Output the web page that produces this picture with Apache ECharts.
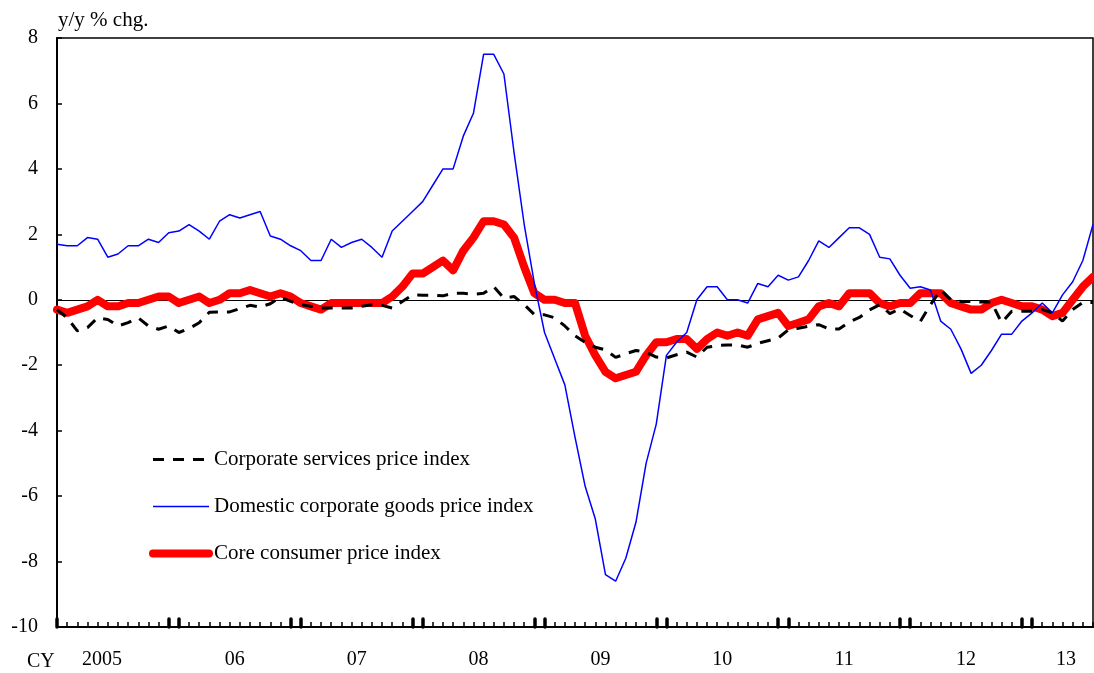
<!DOCTYPE html>
<html>
<head>
<meta charset="utf-8">
<script src="https://cdn.jsdelivr.net/npm/echarts@6/dist/echarts.min.js"></script>
<style>
html, body { margin: 0; padding: 0; background: #fff; }
#chart { width: 1094px; height: 673px; }
</style>
</head>
<body>
<div id="chart"></div>
<script>
// monthly, Jan 2005 .. Jul 2013
var years = ["2005", "06", "07", "08", "09", "10", "11", "12", "13"];
var monthCount = 103;

var services = [
    -0.3, -0.55, -0.95, -0.85, -0.55, -0.6, -0.8, -0.7, -0.55, -0.8, -0.9, -0.8,
    -1.0, -0.88, -0.7, -0.38, -0.37, -0.37, -0.27, -0.17, -0.22, -0.12, 0.08, -0.05,
    -0.15, -0.2, -0.25, -0.25, -0.25, -0.25, -0.2, -0.15, -0.17, -0.25, -0.05, 0.15,
    0.14, 0.14, 0.12, 0.2, 0.2, 0.17, 0.2, 0.4, 0.05, 0.1, -0.15, -0.45,
    -0.46, -0.55, -0.8, -1.1, -1.3, -1.45, -1.53, -1.76, -1.65, -1.55, -1.6, -1.75,
    -1.78, -1.68, -1.6, -1.75, -1.45, -1.4, -1.38, -1.38, -1.45, -1.33, -1.25, -1.17,
    -0.92, -0.87, -0.81, -0.76, -0.89, -0.89, -0.68, -0.54, -0.31, -0.15, -0.42, -0.28,
    -0.48, -0.66, -0.15, 0.3, 0.0, -0.05, -0.05, -0.07, -0.07, -0.7, -0.35, -0.35,
    -0.35, -0.3, -0.4, -0.65, -0.3, -0.08, -0.08
];
var goods = [
    1.7, 1.65, 1.65, 1.9, 1.85, 1.3, 1.4, 1.65, 1.65, 1.85, 1.75, 2.05,
    2.1, 2.3, 2.1, 1.85, 2.4, 2.6, 2.5, 2.6, 2.7, 1.95, 1.85, 1.65,
    1.5, 1.2, 1.2, 1.85, 1.6, 1.75, 1.85, 1.6, 1.3, 2.1, 2.4, 2.7,
    3.0, 3.5, 4.0, 4.0, 5.0, 5.7, 7.5, 7.5, 6.9, 4.5, 2.3, 0.5,
    -1.0, -1.8, -2.6, -4.2, -5.7, -6.7, -8.4, -8.6, -7.9, -6.8, -5.0, -3.8,
    -1.7, -1.3, -1.0, 0.0, 0.4, 0.4, 0.0, 0.0, -0.1, 0.5, 0.4, 0.75,
    0.6, 0.7, 1.2, 1.8, 1.6, 1.9, 2.2, 2.2, 2.0, 1.3, 1.25, 0.75,
    0.35, 0.4, 0.3, -0.65, -0.9, -1.5, -2.25, -2.0, -1.55, -1.05, -1.05, -0.65,
    -0.4, -0.1, -0.4, 0.15, 0.55, 1.2, 2.3
];
var core = [
    -0.3, -0.4, -0.3, -0.2, 0.0, -0.2, -0.2, -0.1, -0.1, 0.0, 0.1, 0.1,
    -0.1, 0.0, 0.1, -0.1, 0.0, 0.2, 0.2, 0.3, 0.2, 0.1, 0.2, 0.1,
    -0.1, -0.2, -0.3, -0.1, -0.1, -0.1, -0.1, -0.1, -0.1, 0.1, 0.4, 0.8,
    0.8, 1.0, 1.2, 0.9, 1.5, 1.9, 2.4, 2.4, 2.3, 1.9, 1.0, 0.2,
    0.0, 0.0, -0.1, -0.1, -1.1, -1.7, -2.2, -2.4, -2.3, -2.2, -1.7, -1.3,
    -1.3, -1.2, -1.2, -1.5, -1.2, -1.0, -1.1, -1.0, -1.1, -0.6, -0.5, -0.4,
    -0.8, -0.7, -0.6, -0.2, -0.1, -0.2, 0.2, 0.2, 0.2, -0.1, -0.2, -0.1,
    -0.1, 0.2, 0.2, 0.2, -0.1, -0.2, -0.3, -0.3, -0.1, 0.0, -0.1, -0.2,
    -0.2, -0.3, -0.5, -0.4, 0.0, 0.4, 0.7
];
var names = ["Corporate services price index", "Domestic corporate goods price index", "Core consumer price index"];

var months = [];
for (var i = 0; i < monthCount; i++) {
    months.push((2005 + Math.floor(i / 12)) + "-" + (i % 12 + 1));
}

var font = "Liberation Serif";
var chart = echarts.init(document.getElementById("chart"));

var option = {
    animation: false,
    textStyle: { fontFamily: font, color: "#000" },
    grid: {
        left: 57, right: 1, top: 38, bottom: 46,
        show: true, borderColor: "#000", borderWidth: 1.5,
        outerBoundsMode: "none"
    },
    graphic: [
        { type: "text", left: 58, top: 10, style: { text: "y/y % chg.", font: "21px " + font, fill: "#000" } },
        { type: "text", left: 27, top: 652, style: { text: "CY", font: "20px " + font, fill: "#000" } }
    ],
    legend: {
        orient: "vertical",
        left: 149, top: 449, padding: 0,
        itemWidth: 56, itemHeight: 20, itemGap: 26,
        data: names,
        itemStyle: { opacity: 0 },
        lineStyle: { width: "inherit", type: "inherit" },
        textStyle: { fontFamily: font, fontSize: 21, color: "#000", lineHeight: 20 }
    },
    xAxis: [{
        type: "category",
        data: months,
        boundaryGap: false,
        axisLine: { onZero: false, lineStyle: { color: "#000", width: 2 } },
        axisTick: { inside: true, length: 5, interval: 0, lineStyle: { color: "#000", width: 1.5 } },
        axisLabel: {
            interval: function (idx) { return idx % 12 === 6; },
            margin: 23,
            fontSize: 20, fontFamily: font, color: "#000",
            formatter: function (v, idx) {
                var y = years[Math.floor(idx / 12)];
                if (idx === 6) return "{f|" + y + "}";
                if (idx === monthCount - 1) return "{l|" + y + "}";
                return "{m|" + y + "}";
            },
            rich: {
                f: { fontSize: 20, fontFamily: font, padding: [0, 32, 0, 0] },
                m: { fontSize: 20, fontFamily: font, padding: [0, 10, 0, 0] },
                l: { fontSize: 20, fontFamily: font, padding: [0, 54, 0, 0] }
            }
        },
        splitLine: { show: false }
    }, {
        // heavy ticks at the turn of each year
        type: "category",
        data: months,
        boundaryGap: false,
        position: "bottom",
        axisLine: { show: false, onZero: false },
        axisLabel: { show: false },
        axisTick: {
            inside: true, length: 8,
            interval: function (idx) { return idx % 12 === 0 || idx % 12 === 11; },
            lineStyle: { color: "#000", width: 3.5, cap: "round" }
        },
        splitLine: { show: false }
    }],
    yAxis: {
        type: "value",
        min: -10, max: 8, interval: 2,
        axisLine: { show: true, lineStyle: { color: "#000", width: 2 } },
        axisTick: { show: true, inside: true, length: 5, lineStyle: { color: "#000", width: 1.5 } },
        axisLabel: { margin: 19, fontSize: 20, fontFamily: font, color: "#000" },
        splitLine: { show: false }
    },
    series: [{
        name: names[2],
        type: "line",
        data: core,
        symbol: "none",
        z: 2,
        lineStyle: { color: "#FF0000", width: 8, join: "round", cap: "round" },
        itemStyle: { color: "#FF0000" },
        markLine: {
            silent: true,
            symbol: "none",
            label: { show: false },
            lineStyle: { color: "#000", width: 1.2, type: "solid" },
            data: [{ yAxis: 0 }],
            z: 1
        }
    }, {
        name: names[1],
        type: "line",
        data: goods,
        symbol: "none",
        z: 3,
        lineStyle: { color: "#0000FF", width: 1.5 },
        itemStyle: { color: "#0000FF" }
    }, {
        name: names[0],
        type: "line",
        data: services,
        symbol: "none",
        z: 4,
        lineStyle: { color: "#000", width: 3, type: [11, 9] },
        itemStyle: { color: "#000" }
    }]
};
chart.setOption(option);
window.addEventListener("resize", chart.resize);
</script>
</body>
</html>
